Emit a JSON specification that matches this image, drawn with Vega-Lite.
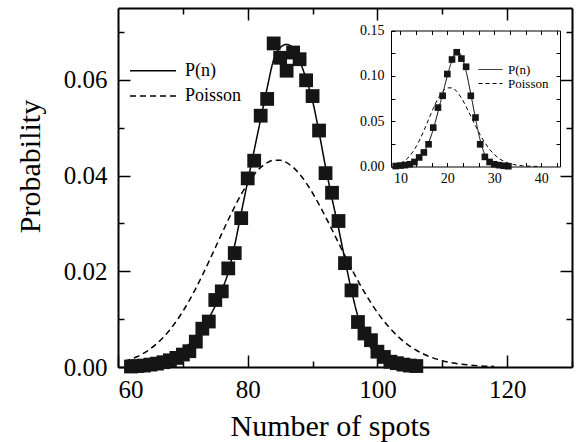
{
  "$schema": "https://vega.github.io/schema/vega-lite/v6.json",
  "width": 454,
  "height": 359,
  "autosize": {"type": "none"},
  "padding": {"left": 118, "top": 8, "right": 6, "bottom": 75},
  "background": "white",
  "config": {
    "view": {"stroke": null},
    "font": "Liberation Serif",
    "axis": {
      "grid": false,
      "labelFont": "Liberation Serif",
      "titleFont": "Liberation Serif",
      "domainColor": "black",
      "tickColor": "black",
      "labelColor": "black",
      "titleColor": "black",
      "titleFontWeight": "normal"
    },
    "legend": {
      "labelFont": "Liberation Serif",
      "labelColor": "black",
      "padding": 0,
      "title": null
    }
  },
  "datasets": {
    "mainPts": [
      {"n": 62, "p": 0.0001}, {"n": 63, "p": 0.0002}, {"n": 64, "p": 0.0003}, {"n": 65, "p": 0.0005},
      {"n": 66, "p": 0.0007}, {"n": 67, "p": 0.001}, {"n": 68, "p": 0.0014}, {"n": 69, "p": 0.0019},
      {"n": 70, "p": 0.0026}, {"n": 71, "p": 0.0033}, {"n": 72, "p": 0.0053}, {"n": 73, "p": 0.008},
      {"n": 74, "p": 0.0095}, {"n": 75, "p": 0.014}, {"n": 76, "p": 0.0158}, {"n": 77, "p": 0.0206},
      {"n": 78, "p": 0.0238}, {"n": 79, "p": 0.0311}, {"n": 80, "p": 0.0394}, {"n": 81, "p": 0.0431},
      {"n": 82, "p": 0.0525}, {"n": 83, "p": 0.056}, {"n": 84, "p": 0.0676}, {"n": 85, "p": 0.0646},
      {"n": 86, "p": 0.0619}, {"n": 87, "p": 0.0657}, {"n": 88, "p": 0.0643}, {"n": 89, "p": 0.0599},
      {"n": 90, "p": 0.0566}, {"n": 91, "p": 0.0494}, {"n": 92, "p": 0.0405}, {"n": 93, "p": 0.0364},
      {"n": 94, "p": 0.0305}, {"n": 95, "p": 0.0217}, {"n": 96, "p": 0.016}, {"n": 97, "p": 0.0094},
      {"n": 98, "p": 0.007}, {"n": 99, "p": 0.0056}, {"n": 100, "p": 0.0032}, {"n": 101, "p": 0.0021},
      {"n": 102, "p": 0.0011}, {"n": 103, "p": 0.0008}, {"n": 104, "p": 0.0005}, {"n": 105, "p": 0.0003},
      {"n": 106, "p": 0.0002}
    ],
    "mainLines": [
      {"n": 62, "p": 0.0003, "s": "P(n)"}, {"n": 64, "p": 0.0007, "s": "P(n)"}, {"n": 66, "p": 0.0013, "s": "P(n)"},
      {"n": 68, "p": 0.0023, "s": "P(n)"}, {"n": 70, "p": 0.0038, "s": "P(n)"}, {"n": 71, "p": 0.0048, "s": "P(n)"},
      {"n": 72, "p": 0.0062, "s": "P(n)"}, {"n": 73, "p": 0.008, "s": "P(n)"}, {"n": 74, "p": 0.0102, "s": "P(n)"},
      {"n": 75, "p": 0.0128, "s": "P(n)"}, {"n": 76, "p": 0.016, "s": "P(n)"}, {"n": 77, "p": 0.0198, "s": "P(n)"},
      {"n": 78, "p": 0.0255, "s": "P(n)"}, {"n": 79, "p": 0.0322, "s": "P(n)"}, {"n": 80, "p": 0.0388, "s": "P(n)"},
      {"n": 81, "p": 0.0453, "s": "P(n)"}, {"n": 82, "p": 0.0518, "s": "P(n)"}, {"n": 83, "p": 0.0583, "s": "P(n)"},
      {"n": 84, "p": 0.0642, "s": "P(n)"}, {"n": 85, "p": 0.0667, "s": "P(n)"}, {"n": 86, "p": 0.0674, "s": "P(n)"},
      {"n": 87, "p": 0.0666, "s": "P(n)"}, {"n": 88, "p": 0.064, "s": "P(n)"}, {"n": 89, "p": 0.0602, "s": "P(n)"},
      {"n": 90, "p": 0.0556, "s": "P(n)"}, {"n": 91, "p": 0.049, "s": "P(n)"}, {"n": 92, "p": 0.0418, "s": "P(n)"},
      {"n": 93, "p": 0.0352, "s": "P(n)"}, {"n": 94, "p": 0.029, "s": "P(n)"}, {"n": 95, "p": 0.0223, "s": "P(n)"},
      {"n": 96, "p": 0.016, "s": "P(n)"}, {"n": 97, "p": 0.0105, "s": "P(n)"}, {"n": 98, "p": 0.0066, "s": "P(n)"},
      {"n": 99, "p": 0.004, "s": "P(n)"}, {"n": 100, "p": 0.0023, "s": "P(n)"}, {"n": 101, "p": 0.0013, "s": "P(n)"},
      {"n": 102, "p": 0.0007, "s": "P(n)"}, {"n": 103, "p": 0.0004, "s": "P(n)"}, {"n": 104, "p": 0.0002, "s": "P(n)"},
      {"n": 106, "p": 0.0001, "s": "P(n)"},
      {"n": 61, "p": 0.00119, "s": "Poisson"}, {"n": 62, "p": 0.00163, "s": "Poisson"}, {"n": 63, "p": 0.00219, "s": "Poisson"},
      {"n": 64, "p": 0.00291, "s": "Poisson"}, {"n": 65, "p": 0.00381, "s": "Poisson"}, {"n": 66, "p": 0.0049, "s": "Poisson"},
      {"n": 67, "p": 0.00622, "s": "Poisson"}, {"n": 68, "p": 0.00778, "s": "Poisson"}, {"n": 69, "p": 0.00958, "s": "Poisson"},
      {"n": 70, "p": 0.01163, "s": "Poisson"}, {"n": 71, "p": 0.01393, "s": "Poisson"}, {"n": 72, "p": 0.01644, "s": "Poisson"},
      {"n": 73, "p": 0.01914, "s": "Poisson"}, {"n": 74, "p": 0.02199, "s": "Poisson"}, {"n": 75, "p": 0.02492, "s": "Poisson"},
      {"n": 76, "p": 0.02787, "s": "Poisson"}, {"n": 77, "p": 0.03076, "s": "Poisson"}, {"n": 78, "p": 0.03352, "s": "Poisson"},
      {"n": 79, "p": 0.03607, "s": "Poisson"}, {"n": 80, "p": 0.03833, "s": "Poisson"}, {"n": 81, "p": 0.04022, "s": "Poisson"},
      {"n": 82, "p": 0.04169, "s": "Poisson"}, {"n": 83, "p": 0.04269, "s": "Poisson"}, {"n": 84, "p": 0.0432, "s": "Poisson"},
      {"n": 85, "p": 0.0432, "s": "Poisson"}, {"n": 86, "p": 0.0427, "s": "Poisson"}, {"n": 87, "p": 0.04172, "s": "Poisson"},
      {"n": 88, "p": 0.0403, "s": "Poisson"}, {"n": 89, "p": 0.03849, "s": "Poisson"}, {"n": 90, "p": 0.03635, "s": "Poisson"},
      {"n": 91, "p": 0.03395, "s": "Poisson"}, {"n": 92, "p": 0.03137, "s": "Poisson"}, {"n": 93, "p": 0.02867, "s": "Poisson"},
      {"n": 94, "p": 0.02593, "s": "Poisson"}, {"n": 95, "p": 0.0232, "s": "Poisson"}, {"n": 96, "p": 0.02054, "s": "Poisson"},
      {"n": 97, "p": 0.018, "s": "Poisson"}, {"n": 98, "p": 0.01561, "s": "Poisson"}, {"n": 99, "p": 0.0134, "s": "Poisson"},
      {"n": 100, "p": 0.01139, "s": "Poisson"}, {"n": 101, "p": 0.00959, "s": "Poisson"}, {"n": 102, "p": 0.00799, "s": "Poisson"},
      {"n": 103, "p": 0.00659, "s": "Poisson"}, {"n": 104, "p": 0.00539, "s": "Poisson"}, {"n": 105, "p": 0.00436, "s": "Poisson"},
      {"n": 106, "p": 0.0035, "s": "Poisson"}, {"n": 107, "p": 0.00278, "s": "Poisson"}, {"n": 108, "p": 0.00219, "s": "Poisson"},
      {"n": 109, "p": 0.0017, "s": "Poisson"}, {"n": 110, "p": 0.00132, "s": "Poisson"}, {"n": 112, "p": 0.00077, "s": "Poisson"},
      {"n": 114, "p": 0.00043, "s": "Poisson"}, {"n": 116, "p": 0.00023, "s": "Poisson"}, {"n": 118, "p": 0.00012, "s": "Poisson"}
    ],
    "insetPts": [
      {"n": 9, "p": 0.0005}, {"n": 10, "p": 0.001}, {"n": 11, "p": 0.0015}, {"n": 12, "p": 0.0025},
      {"n": 13, "p": 0.005}, {"n": 14, "p": 0.01}, {"n": 15, "p": 0.0155}, {"n": 16, "p": 0.0245},
      {"n": 17, "p": 0.0429}, {"n": 18, "p": 0.065}, {"n": 19, "p": 0.078}, {"n": 20, "p": 0.102},
      {"n": 21, "p": 0.118}, {"n": 22, "p": 0.126}, {"n": 23, "p": 0.119}, {"n": 24, "p": 0.11},
      {"n": 25, "p": 0.078}, {"n": 26, "p": 0.054}, {"n": 27, "p": 0.0245}, {"n": 28, "p": 0.0106},
      {"n": 29, "p": 0.005}, {"n": 30, "p": 0.0025}, {"n": 31, "p": 0.0015}, {"n": 32, "p": 0.0008},
      {"n": 33, "p": 0.0003}
    ],
    "insetLines": [
      {"n": 9, "p": 0.0003, "s": "P(n)"}, {"n": 11, "p": 0.001, "s": "P(n)"}, {"n": 12, "p": 0.0022, "s": "P(n)"},
      {"n": 13, "p": 0.0045, "s": "P(n)"}, {"n": 14, "p": 0.009, "s": "P(n)"}, {"n": 15, "p": 0.016, "s": "P(n)"},
      {"n": 16, "p": 0.026, "s": "P(n)"}, {"n": 17, "p": 0.041, "s": "P(n)"}, {"n": 18, "p": 0.06, "s": "P(n)"},
      {"n": 19, "p": 0.08, "s": "P(n)"}, {"n": 20, "p": 0.1, "s": "P(n)"}, {"n": 21, "p": 0.117, "s": "P(n)"},
      {"n": 22, "p": 0.127, "s": "P(n)"}, {"n": 23, "p": 0.122, "s": "P(n)"}, {"n": 24, "p": 0.105, "s": "P(n)"},
      {"n": 25, "p": 0.08, "s": "P(n)"}, {"n": 26, "p": 0.053, "s": "P(n)"}, {"n": 27, "p": 0.029, "s": "P(n)"},
      {"n": 28, "p": 0.013, "s": "P(n)"}, {"n": 29, "p": 0.005, "s": "P(n)"}, {"n": 30, "p": 0.0018, "s": "P(n)"},
      {"n": 31, "p": 0.0006, "s": "P(n)"}, {"n": 32, "p": 0.0002, "s": "P(n)"},
      {"n": 10, "p": 0.00349, "s": "Poisson"}, {"n": 11, "p": 0.00665, "s": "Poisson"}, {"n": 12, "p": 0.01164, "s": "Poisson"},
      {"n": 13, "p": 0.01881, "s": "Poisson"}, {"n": 14, "p": 0.02821, "s": "Poisson"}, {"n": 15, "p": 0.0395, "s": "Poisson"},
      {"n": 16, "p": 0.05184, "s": "Poisson"}, {"n": 17, "p": 0.06404, "s": "Poisson"}, {"n": 18, "p": 0.07472, "s": "Poisson"},
      {"n": 19, "p": 0.08258, "s": "Poisson"}, {"n": 20, "p": 0.08671, "s": "Poisson"}, {"n": 21, "p": 0.08671, "s": "Poisson"},
      {"n": 22, "p": 0.08277, "s": "Poisson"}, {"n": 23, "p": 0.07557, "s": "Poisson"}, {"n": 24, "p": 0.06613, "s": "Poisson"},
      {"n": 25, "p": 0.05555, "s": "Poisson"}, {"n": 26, "p": 0.04486, "s": "Poisson"}, {"n": 27, "p": 0.03489, "s": "Poisson"},
      {"n": 28, "p": 0.02617, "s": "Poisson"}, {"n": 29, "p": 0.01895, "s": "Poisson"}, {"n": 30, "p": 0.01327, "s": "Poisson"},
      {"n": 31, "p": 0.00899, "s": "Poisson"}, {"n": 32, "p": 0.0059, "s": "Poisson"}, {"n": 33, "p": 0.00375, "s": "Poisson"},
      {"n": 34, "p": 0.00232, "s": "Poisson"}, {"n": 35, "p": 0.00139, "s": "Poisson"}, {"n": 36, "p": 0.00081, "s": "Poisson"},
      {"n": 37, "p": 0.00046, "s": "Poisson"}, {"n": 38, "p": 0.00025, "s": "Poisson"}, {"n": 40, "p": 0.00007, "s": "Poisson"}
    ]
  },
  "layer": [
    {
      "data": {"name": "mainLines"},
      "transform": [{"filter": "datum.s === 'P(n)'"}],
      "mark": {"type": "line", "color": "black", "strokeWidth": 1.5, "interpolate": "monotone"},
      "encoding": {
        "x": {"field": "n", "type": "quantitative", "scale": {"domain": [60, 130], "nice": false, "zero": false}, "axis": null},
        "y": {"field": "p", "type": "quantitative", "scale": {"domain": [0, 0.075], "nice": false}, "axis": null},
        "strokeDash": {
          "field": "s", "type": "nominal",
          "scale": {"domain": ["P(n)"], "range": [[1, 0]]},
          "legend": {
            "orient": "none", "legendX": 11, "legendY": 38.7,
            "symbolType": "stroke", "symbolSize": 2116, "symbolStrokeWidth": 1.5, "symbolStrokeColor": "black",
            "labelFontSize": 18, "labelOffset": 8
          }
        }
      }
    },
    {
      "data": {"name": "mainLines"},
      "transform": [{"filter": "datum.s === 'Poisson'"}],
      "mark": {"type": "line", "color": "black", "strokeWidth": 1.5, "interpolate": "monotone"},
      "encoding": {
        "x": {"field": "n", "type": "quantitative", "scale": {"domain": [60, 130], "nice": false, "zero": false}, "axis": null},
        "y": {"field": "p", "type": "quantitative", "scale": {"domain": [0, 0.075], "nice": false}, "axis": null},
        "strokeDash": {
          "field": "s", "type": "nominal",
          "scale": {"domain": ["Poisson"], "range": [[6, 4]]},
          "legend": {
            "orient": "none", "legendX": 11, "legendY": 64,
            "symbolType": "stroke", "symbolSize": 2116, "symbolStrokeWidth": 1.5, "symbolStrokeColor": "black",
            "labelFontSize": 18, "labelOffset": 8
          }
        }
      }
    },
    {
      "data": {"name": "mainPts"},
      "mark": {"type": "point", "shape": "square", "filled": true, "size": 190, "color": "#151515", "opacity": 1},
      "encoding": {
        "x": {
          "field": "n", "type": "quantitative", "scale": {"domain": [60, 130], "nice": false, "zero": false},
          "axis": {
            "orient": "bottom", "values": [60, 70, 80, 90, 100, 110, 120, 130],
            "labelExpr": "datum.value % 20 === 0 ? datum.label : ''",
            "tickSize": {"condition": {"test": "datum.value % 20 === 0", "value": -12}, "value": -6},
            "tickWidth": 1.5, "domainWidth": 2, "labelFontSize": 25, "labelPadding": 22,
            "title": "Number of spots", "titleFontSize": 30,
            "titleX": 212, "titleY": 68, "titleBaseline": "alphabetic"
          }
        },
        "y": {
          "field": "p", "type": "quantitative", "scale": {"domain": [0, 0.075], "nice": false},
          "axis": {
            "orient": "left", "values": [0, 0.01, 0.02, 0.03, 0.04, 0.05, 0.06, 0.07], "format": ".2f",
            "labelExpr": "round(datum.value * 100) % 2 === 0 ? datum.label : ''",
            "tickSize": {"condition": {"test": "round(datum.value * 100) % 2 === 0", "value": -12}, "value": -6},
            "tickWidth": 1.5, "domainWidth": 2, "labelFontSize": 25, "labelPadding": 23,
            "title": "Probability", "titleFontSize": 30,
            "titleX": -73, "titleY": 158
          }
        }
      }
    },
    {
      "data": {"name": "mainPts"},
      "mark": {"type": "point", "opacity": 0},
      "encoding": {
        "x": {
          "field": "n", "type": "quantitative", "scale": {"domain": [60, 130], "nice": false, "zero": false},
          "axis": {
            "orient": "top", "values": [70, 80, 90, 100, 110, 120], "labels": false, "title": null,
            "tickSize": {"condition": {"test": "datum.value % 20 === 0", "value": -12}, "value": -6},
            "tickWidth": 1.5, "domainWidth": 2
          }
        },
        "y": {
          "field": "p", "type": "quantitative", "scale": {"domain": [0, 0.075], "nice": false},
          "axis": {
            "orient": "right", "values": [0.01, 0.02, 0.03, 0.04, 0.05, 0.06, 0.07], "labels": false, "title": null,
            "tickSize": {"condition": {"test": "round(datum.value * 100) % 2 === 0", "value": -12}, "value": -6},
            "tickWidth": 1.5, "domainWidth": 2
          }
        }
      }
    },
    {
      "data": {"name": "insetLines"},
      "transform": [{"filter": "datum.s === 'P(n)'"}],
      "mark": {"type": "line", "color": "black", "strokeWidth": 1, "interpolate": "monotone"},
      "encoding": {
        "x": {"field": "n", "type": "quantitative", "scale": {"domain": [8, 44], "range": [273, 442], "nice": false, "zero": false}, "axis": null},
        "y": {"field": "p", "type": "quantitative", "scale": {"domain": [0, 0.15], "range": [158.5, 22.5], "nice": false}, "axis": null},
        "strokeDash": {
          "field": "s", "type": "nominal",
          "scale": {"domain": ["P(n)"], "range": [[1, 0]]},
          "legend": {
            "orient": "none", "legendX": 360, "legendY": 49,
            "symbolType": "stroke", "symbolSize": 576, "symbolStrokeWidth": 1, "symbolStrokeColor": "black",
            "labelFontSize": 13, "labelOffset": 5
          }
        }
      }
    },
    {
      "data": {"name": "insetLines"},
      "transform": [{"filter": "datum.s === 'Poisson'"}],
      "mark": {"type": "line", "color": "black", "strokeWidth": 1, "interpolate": "monotone"},
      "encoding": {
        "x": {"field": "n", "type": "quantitative", "scale": {"domain": [8, 44], "range": [273, 442], "nice": false, "zero": false}, "axis": null},
        "y": {"field": "p", "type": "quantitative", "scale": {"domain": [0, 0.15], "range": [158.5, 22.5], "nice": false}, "axis": null},
        "strokeDash": {
          "field": "s", "type": "nominal",
          "scale": {"domain": ["Poisson"], "range": [[4, 3]]},
          "legend": {
            "orient": "none", "legendX": 360, "legendY": 63,
            "symbolType": "stroke", "symbolSize": 576, "symbolStrokeWidth": 1, "symbolStrokeColor": "black",
            "labelFontSize": 13, "labelOffset": 5
          }
        }
      }
    },
    {
      "data": {"name": "insetPts"},
      "mark": {"type": "point", "shape": "square", "filled": true, "size": 44, "color": "#151515", "opacity": 1},
      "encoding": {
        "x": {
          "field": "n", "type": "quantitative", "scale": {"domain": [8, 44], "range": [273, 442], "nice": false, "zero": false},
          "axis": {
            "orient": "bottom", "offset": -200.5,
            "values": [10, 13.3333, 16.6667, 20, 23.3333, 26.6667, 30, 33.3333, 36.6667, 40, 43.3333],
            "labelExpr": "abs(datum.value - round(datum.value / 10) * 10) < 0.01 ? format(datum.value, 'd') : ''",
            "tickSize": -4, "tickWidth": 1, "domainWidth": 1, "labelFontSize": 14, "labelPadding": 9, "title": null
          }
        },
        "y": {
          "field": "p", "type": "quantitative", "scale": {"domain": [0, 0.15], "range": [158.5, 22.5], "nice": false},
          "axis": {
            "orient": "left", "offset": -273,
            "values": [0, 0.025, 0.05, 0.075, 0.1, 0.125, 0.15], "format": ".2f",
            "labelExpr": "round(datum.value * 40) % 2 === 0 ? datum.label : ''",
            "tickSize": -4, "tickWidth": 1, "domainWidth": 1, "labelFontSize": 14, "labelPadding": 11, "title": null
          }
        }
      }
    },
    {
      "data": {"name": "insetPts"},
      "mark": {"type": "point", "opacity": 0},
      "encoding": {
        "x": {
          "field": "n", "type": "quantitative", "scale": {"domain": [8, 44], "range": [273, 442], "nice": false, "zero": false},
          "axis": {
            "orient": "top", "offset": -22.5,
            "values": [10, 13.3333, 16.6667, 20, 23.3333, 26.6667, 30, 33.3333, 36.6667, 40, 43.3333],
            "labels": false, "tickSize": -4, "tickWidth": 1, "domainWidth": 1, "title": null
          }
        },
        "y": {
          "field": "p", "type": "quantitative", "scale": {"domain": [0, 0.15], "range": [158.5, 22.5], "nice": false},
          "axis": {
            "orient": "right", "offset": -12,
            "values": [0.025, 0.05, 0.075, 0.1, 0.125],
            "labels": false, "tickSize": -4, "tickWidth": 1, "domainWidth": 1, "title": null
          }
        }
      }
    }
  ],
  "resolve": {
    "scale": {"x": "independent", "y": "independent", "strokeDash": "independent"},
    "axis": {"x": "independent", "y": "independent"},
    "legend": {"strokeDash": "independent"}
  }
}
